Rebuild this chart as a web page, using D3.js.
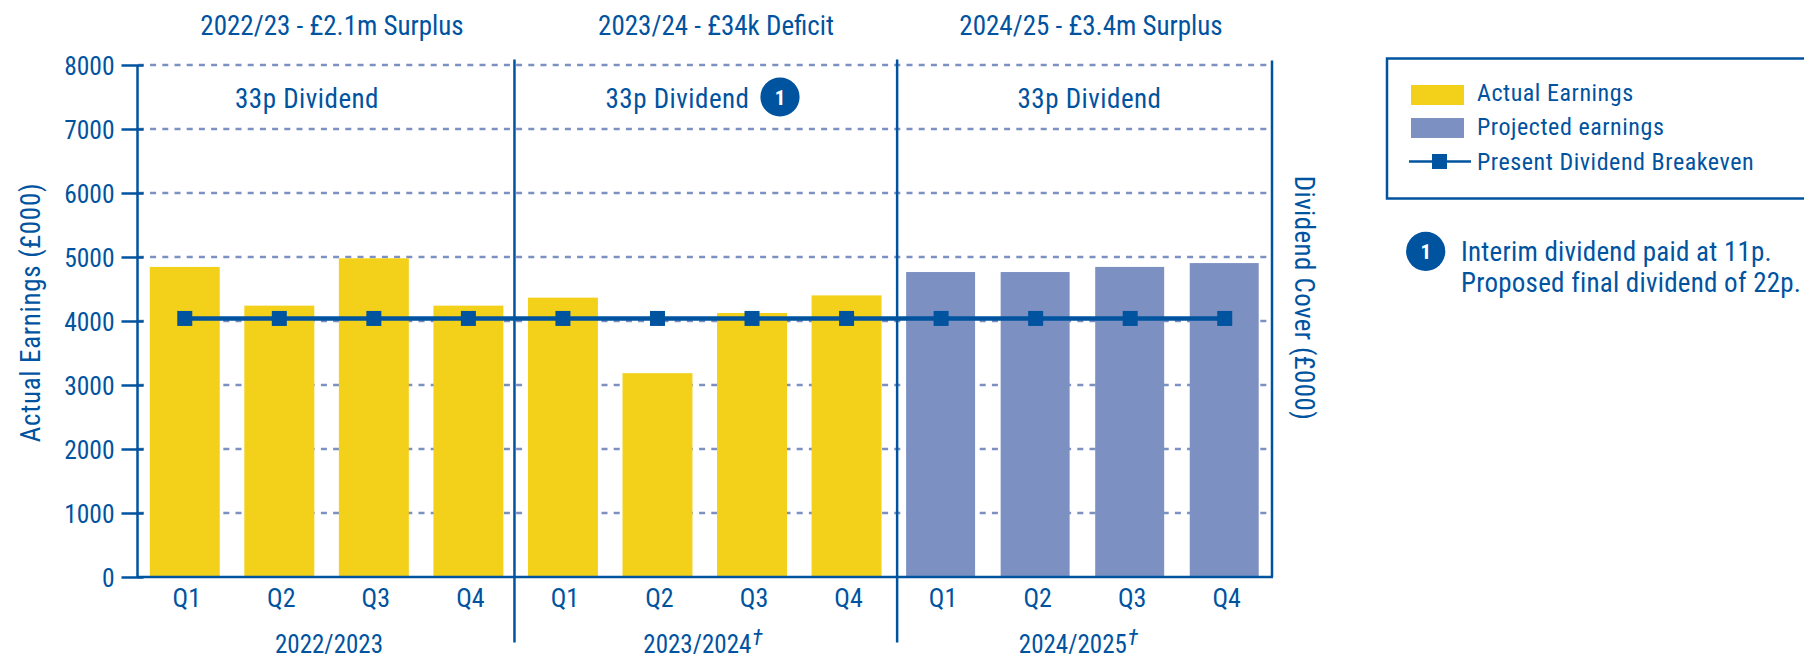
<!DOCTYPE html>
<html><head><meta charset="utf-8">
<script src="https://cdn.jsdelivr.net/npm/d3@7/dist/d3.min.js"></script>
<style>
html,body{margin:0;padding:0;background:#fff;overflow:hidden}
text{font-family:"Liberation Sans Narrow","Roboto Condensed","Liberation Sans",sans-serif;fill:#00539f}
</style></head><body><svg id="c" width="1804" height="658"></svg>
<script>
const quarterLabels=["Q1","Q2","Q3","Q4","Q1","Q2","Q3","Q4","Q1","Q2","Q3","Q4"];
const actualEarnings=[4845,4240,4980,4240,4365,3185,4125,4400];
const projectedEarnings=[4765,4765,4845,4905];
const breakeven=[4040,4040,4040,4040,4040,4040,4040,4040,4040,4040,4040,4040];
const yTicks=[0,1000,2000,3000,4000,5000,6000,7000,8000];
const periodTitles=["2022/23 - £2.1m Surplus","2023/24 - £34k Deficit","2024/25 - £3.4m Surplus"];
const dividendLabels=["33p Dividend","33p Dividend","33p Dividend"];
const yearLabels=["2022/2023","2023/2024","2024/2025"];
const yearDaggers=["","†","†"];
const legendLabels=["Actual Earnings","Projected earnings","Present Dividend Breakeven"];
const noteLines=["Interim dividend paid at 11p.","Proposed final dividend of 22p."];

const BLUE="#00539f",YEL="#f3d11a",PER="#7c90c2";
const svg=d3.select("#c");
const L=137.5,R=1272,T=65,B=577;
const idx=d3.range(12);
const x=d3.scaleBand().domain(idx).range([L,R]).paddingInner(0.26).paddingOuter(0.13);
const y=d3.scaleLinear().domain([0,8000]).range([B,T]);
const values=actualEarnings.concat(projectedEarnings);
const cx=i=>x(i)+x.bandwidth()/2;

// grid
svg.append("g").selectAll("line").data(yTicks.slice(1)).join("line")
 .attr("x1",L+0.4).attr("x2",R).attr("y1",y).attr("y2",y)
 .attr("stroke",PER).attr("stroke-width",2.5).attr("stroke-dasharray","6 6.2");

// bars
svg.append("g").selectAll("rect").data(idx).join("rect")
 .attr("x",i=>x(i)).attr("width",i=>x.bandwidth()-(i>=8?1:0))
 .attr("y",i=>y(values[i])).attr("height",i=>B-y(values[i]))
 .attr("fill",i=>i<8?YEL:PER);

// y axis with library axis
const yAxis=d3.axisLeft(y).tickValues(yTicks).tickSize(16).tickPadding(7).tickFormat(d3.format("d"));
const yg=svg.append("g").attr("transform",`translate(${L},0)`).call(yAxis);
yg.select(".domain").remove();
yg.selectAll(".tick line").attr("stroke",BLUE).attr("stroke-width",2.5).attr("x2",-16).attr("x1",6);
yg.selectAll(".tick text").attr("font-size",25.5).attr("font-family",null).attr("fill",BLUE).attr("dy","0.36em");

// axis frame
const frame=svg.append("g").attr("stroke",BLUE).attr("stroke-width",2.5);
frame.append("line").attr("x1",L).attr("x2",L).attr("y1",T).attr("y2",B);
frame.append("line").attr("x1",L).attr("x2",R+1).attr("y1",B).attr("y2",B);
frame.append("line").attr("x1",R).attr("x2",R).attr("y1",60.5).attr("y2",B);
[[4,-1.2],[8,3.3]].forEach(([k,off])=>{const xx=(x(k-1)+x.bandwidth()+x(k))/2+off;
 frame.append("line").attr("x1",xx).attr("x2",xx).attr("y1",59.5).attr("y2",642.5);});

// breakeven
svg.append("path").datum(idx).attr("fill","none").attr("stroke",BLUE).attr("stroke-width",4.5)
 .attr("d",d3.line().x(cx).y(i=>y(breakeven[i])));
svg.append("g").selectAll("rect").data(idx).join("rect")
 .attr("x",i=>cx(i)-7.5).attr("y",i=>y(breakeven[i])-7.5).attr("width",15).attr("height",15).attr("fill",BLUE);

// quarter labels
svg.append("g").selectAll("text").data(idx).join("text")
 .attr("x",i=>cx(i)+2).attr("y",607).attr("text-anchor","middle").attr("font-size",26).text(i=>quarterLabels[i]);

const titleX=[332,716,1091], divX=[307,677.5,1089.5], yearX=[329,703,1078.5];
svg.append("g").selectAll("text").data(periodTitles).join("text")
 .attr("x",(d,i)=>titleX[i]).attr("y",35).attr("text-anchor","middle").attr("font-size",27).text(d=>d);
svg.append("g").selectAll("text").data(dividendLabels).join("text")
 .attr("x",(d,i)=>divX[i]).attr("y",107.5).attr("text-anchor","middle").attr("font-size",27).attr("letter-spacing",0.5).text(d=>d);
const yl=svg.append("g").selectAll("text").data(yearLabels).join("text")
 .attr("x",(d,i)=>yearX[i]).attr("y",653).attr("text-anchor","middle").attr("font-size",25);
yl.text(d=>d);
yl.filter((d,i)=>yearDaggers[i]).append("tspan").attr("dy",-8).attr("dx",1).attr("font-size",22).attr("font-style","italic").text((d)=>yearDaggers[yearLabels.indexOf(d)]);

// badge
function badge(cxv,cyv){const g=svg.append("g");
 g.append("circle").attr("cx",cxv).attr("cy",cyv).attr("r",19.6).attr("fill",BLUE);
 g.append("text").attr("x",cxv).attr("y",cyv+7.5).attr("text-anchor","middle").attr("font-size",21).attr("font-weight",700).style("fill","#fff").text("1");}
badge(780,97);

// axis titles
svg.append("text").attr("transform","translate(39.5,312.5) rotate(-90)").attr("text-anchor","middle").attr("font-size",27).attr("letter-spacing",0.7).text("Actual Earnings (£000)");
svg.append("text").attr("transform","translate(1295,298) rotate(90)").attr("text-anchor","middle").attr("font-size",27).attr("letter-spacing",0.4).text("Dividend Cover (£000)");

// legend
const lg=svg.append("g");
lg.append("rect").attr("x",1387).attr("y",58.5).attr("width",460).attr("height",140).attr("fill","none").attr("stroke",BLUE).attr("stroke-width",2.5);
const legY=[100.5,135,170];
lg.append("rect").attr("x",1411).attr("y",85).attr("width",53).attr("height",20).attr("fill",YEL);
lg.append("rect").attr("x",1411).attr("y",118).attr("width",53).attr("height",20).attr("fill",PER);
lg.append("line").attr("x1",1409).attr("x2",1471).attr("y1",161.5).attr("y2",161.5).attr("stroke",BLUE).attr("stroke-width",2.5);
lg.append("rect").attr("x",1432).attr("y",154).attr("width",15).attr("height",15).attr("fill",BLUE);
lg.selectAll("text").data(legendLabels).join("text").attr("x",1477).attr("y",(d,i)=>legY[i]).attr("font-size",24).attr("letter-spacing",0.55).text(d=>d);

// note
badge(1425.7,251.3);
const noteY=[260.5,291.5];
svg.append("g").selectAll("text").data(noteLines).join("text").attr("x",1461).attr("y",(d,i)=>noteY[i]).attr("font-size",27).attr("letter-spacing",0.25).text(d=>d);
</script></body></html>
